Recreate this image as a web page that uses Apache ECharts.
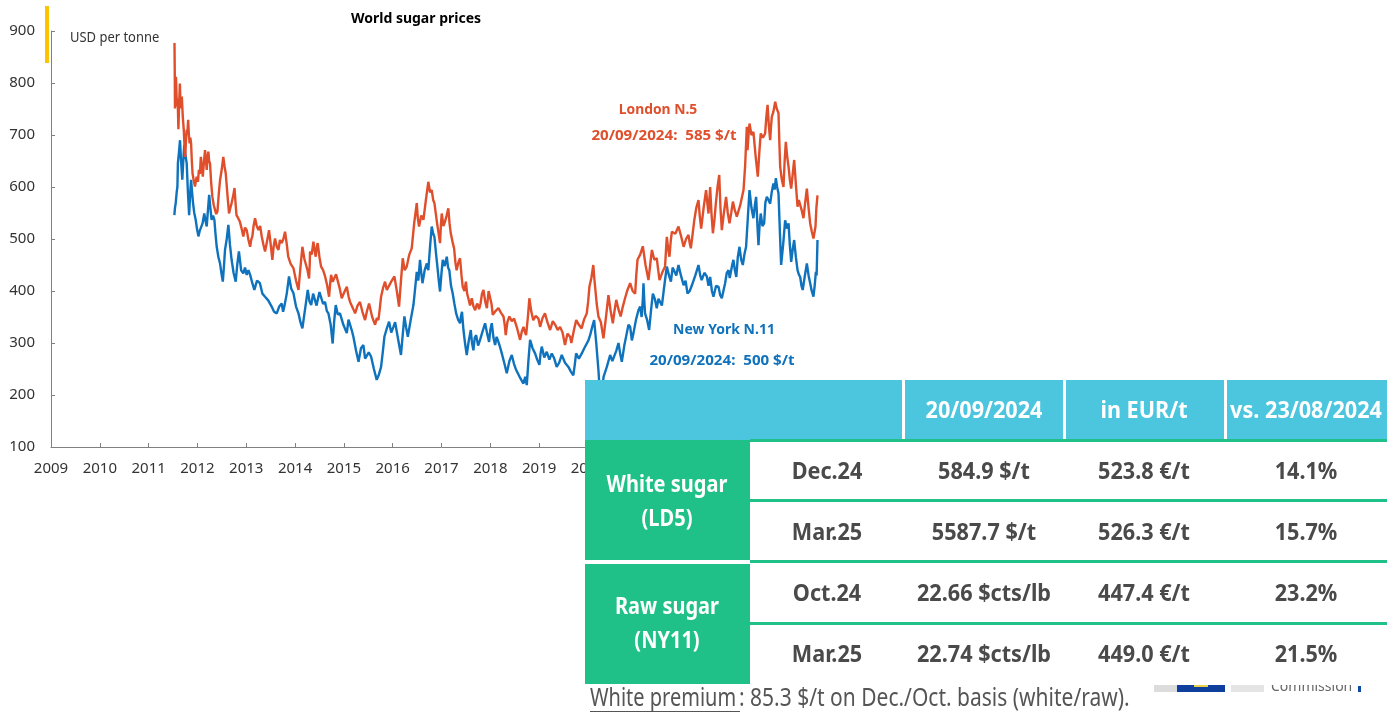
<!DOCTYPE html>
<html>
<head>
<meta charset="utf-8">
<style>html,body{margin:0;padding:0;background:#fff}#c{width:1396px;height:715px;filter:blur(0.45px)}</style>
<script src="https://cdn.jsdelivr.net/npm/echarts@6/dist/echarts.min.js"></script>
</head>
<body>
<div id="c"></div>
<script>
const yAxisTicks = [100, 900, 100];
const xAxisTicks = [2009, 2025, 1];
const londonPoints = [[2011.53,877],[2011.535,825],[2011.54,751],[2011.55,790],[2011.56,812],[2011.57,780],[2011.58,755],[2011.595,770],[2011.61,711],[2011.625,760],[2011.64,799],[2011.65,770],[2011.66,751],[2011.67,765],[2011.68,774],[2011.70,735],[2011.72,710],[2011.735,680],[2011.75,658],[2011.765,690],[2011.78,710],[2011.795,705],[2011.81,729],[2011.825,700],[2011.84,684],[2011.855,695],[2011.87,684],[2011.885,650],[2011.90,626],[2011.925,612],[2011.95,601],[2011.97,612],[2011.985,620],[2012.01,610],[2012.03,633],[2012.05,625],[2012.07,658],[2012.09,640],[2012.11,620],[2012.135,650],[2012.156,671],[2012.175,650],[2012.19,633],[2012.205,655],[2012.224,668],[2012.24,650],[2012.258,645],[2012.28,610],[2012.306,581],[2012.335,565],[2012.36,556],[2012.385,548],[2012.41,553],[2012.44,590],[2012.463,613],[2012.50,635],[2012.53,658],[2012.555,640],[2012.58,626],[2012.615,585],[2012.647,549],[2012.675,560],[2012.70,569],[2012.73,582],[2012.76,598],[2012.78,570],[2012.80,546],[2012.835,540],[2012.87,533],[2012.905,520],[2012.94,505],[2012.975,522],[2013.01,517],[2013.045,498],[2013.08,485],[2013.10,498],[2013.125,505],[2013.15,525],[2013.18,540],[2013.215,525],[2013.25,517],[2013.285,525],[2013.317,505],[2013.35,490],[2013.385,476],[2013.425,495],[2013.467,517],[2013.50,490],[2013.535,460],[2013.56,485],[2013.59,501],[2013.625,485],[2013.66,479],[2013.69,498],[2013.726,492],[2013.76,500],[2013.795,514],[2013.83,490],[2013.86,466],[2013.91,452],[2013.966,444],[2014.02,420],[2014.07,402],[2014.11,445],[2014.15,485],[2014.19,462],[2014.225,450],[2014.255,440],[2014.287,424],[2014.30,450],[2014.307,476],[2014.34,470],[2014.376,495],[2014.40,478],[2014.423,466],[2014.445,485],[2014.464,492],[2014.50,465],[2014.533,447],[2014.575,440],[2014.615,428],[2014.655,412],[2014.697,389],[2014.72,415],[2014.738,431],[2014.77,418],[2014.806,421],[2014.84,432],[2014.874,431],[2014.915,405],[2014.956,386],[2015.01,398],[2015.06,408],[2015.095,390],[2015.127,379],[2015.18,368],[2015.23,357],[2015.28,372],[2015.33,379],[2015.38,360],[2015.434,344],[2015.475,362],[2015.516,376],[2015.58,350],[2015.64,335],[2015.675,348],[2015.707,344],[2015.735,365],[2015.762,389],[2015.80,405],[2015.844,418],[2015.88,402],[2015.912,399],[2015.97,418],[2016.035,428],[2016.085,400],[2016.13,370],[2016.17,420],[2016.206,463],[2016.245,440],[2016.288,447],[2016.34,470],[2016.39,482],[2016.44,530],[2016.493,569],[2016.515,540],[2016.54,524],[2016.585,545],[2016.63,537],[2016.68,575],[2016.73,610],[2016.765,590],[2016.80,594],[2016.83,575],[2016.855,569],[2016.91,530],[2016.97,492],[2016.99,530],[2017.005,549],[2017.04,525],[2017.07,533],[2017.105,545],[2017.14,559],[2017.165,530],[2017.19,511],[2017.225,495],[2017.258,482],[2017.285,455],[2017.31,440],[2017.345,455],[2017.38,463],[2017.41,430],[2017.435,408],[2017.47,400],[2017.50,418],[2017.525,395],[2017.55,386],[2017.585,372],[2017.62,386],[2017.655,370],[2017.69,363],[2017.715,372],[2017.736,376],[2017.77,365],[2017.80,376],[2017.83,395],[2017.86,402],[2017.895,380],[2017.93,367],[2017.965,400],[2017.995,399],[2018.025,375],[2018.05,354],[2018.11,362],[2018.166,367],[2018.22,358],[2018.27,351],[2018.295,335],[2018.316,315],[2018.35,340],[2018.39,351],[2018.44,342],[2018.487,347],[2018.55,328],[2018.61,306],[2018.645,322],[2018.68,331],[2018.705,322],[2018.733,315],[2018.77,350],[2018.80,386],[2018.84,360],[2018.88,344],[2018.93,352],[2018.986,347],[2019.02,331],[2019.07,348],[2019.12,357],[2019.17,340],[2019.225,325],[2019.28,342],[2019.33,335],[2019.38,325],[2019.43,331],[2019.48,320],[2019.53,296],[2019.58,318],[2019.635,312],[2019.66,300],[2019.68,302],[2019.72,328],[2019.76,344],[2019.815,335],[2019.87,328],[2019.92,345],[2019.976,357],[2020.005,380],[2020.03,408],[2020.07,425],[2020.11,450],[2020.13,425],[2020.147,408],[2020.18,375],[2020.215,351],[2020.265,340],[2020.318,309],[2020.37,350],[2020.42,392],[2020.465,362],[2020.51,338],[2020.545,362],[2020.58,383],[2020.625,365],[2020.67,351],[2020.715,370],[2020.76,386],[2020.81,402],[2020.865,415],[2020.915,400],[2020.967,395],[2020.99,430],[2021.015,460],[2021.07,470],[2021.124,486],[2021.18,450],[2021.24,421],[2021.275,450],[2021.31,479],[2021.36,460],[2021.41,463],[2021.44,440],[2021.466,421],[2021.52,435],[2021.58,447],[2021.60,480],[2021.616,504],[2021.645,480],[2021.67,466],[2021.695,495],[2021.72,514],[2021.79,510],[2021.855,524],[2021.91,505],[2021.96,485],[2022.01,500],[2022.06,508],[2022.085,492],[2022.108,482],[2022.145,510],[2022.18,537],[2022.22,560],[2022.265,575],[2022.29,545],[2022.32,520],[2022.37,560],[2022.42,594],[2022.445,570],[2022.47,549],[2022.504,600],[2022.53,550],[2022.56,511],[2022.59,535],[2022.62,568],[2022.655,600],[2022.69,623],[2022.715,560],[2022.743,517],[2022.785,550],[2022.83,581],[2022.865,550],[2022.90,530],[2022.935,550],[2022.97,572],[2023.01,555],[2023.05,543],[2023.12,565],[2023.187,594],[2023.22,640],[2023.255,716],[2023.265,690],[2023.27,671],[2023.29,700],[2023.31,722],[2023.35,700],[2023.39,706],[2023.435,660],[2023.48,620],[2023.51,665],[2023.54,703],[2023.585,695],[2023.63,703],[2023.655,735],[2023.68,758],[2023.705,720],[2023.733,690],[2023.75,715],[2023.767,735],[2023.80,745],[2023.836,764],[2023.87,750],[2023.904,742],[2023.92,690],[2023.938,639],[2023.97,615],[2024.006,600],[2024.03,650],[2024.054,687],[2024.08,660],[2024.11,639],[2024.135,615],[2024.164,597],[2024.195,625],[2024.225,652],[2024.26,605],[2024.294,562],[2024.32,575],[2024.348,575],[2024.38,555],[2024.416,540],[2024.45,570],[2024.485,597],[2024.52,560],[2024.553,530],[2024.585,515],[2024.62,501],[2024.64,512],[2024.662,524],[2024.68,560],[2024.703,584]];
const newYorkPoints = [[2011.527,546],[2011.54,560],[2011.555,569],[2011.575,590],[2011.59,601],[2011.60,646],[2011.62,665],[2011.643,690],[2011.665,650],[2011.69,614],[2011.71,650],[2011.73,681],[2011.755,660],[2011.78,646],[2011.805,590],[2011.83,546],[2011.85,585],[2011.87,614],[2011.89,590],[2011.91,569],[2011.935,550],[2011.964,537],[2011.99,520],[2012.02,505],[2012.045,515],[2012.07,517],[2012.105,530],[2012.14,549],[2012.165,535],[2012.19,524],[2012.215,555],[2012.24,585],[2012.265,560],[2012.29,537],[2012.32,545],[2012.347,537],[2012.37,510],[2012.395,485],[2012.43,465],[2012.463,453],[2012.49,435],[2012.52,418],[2012.545,450],[2012.565,479],[2012.60,500],[2012.634,527],[2012.665,490],[2012.70,460],[2012.74,435],[2012.784,418],[2012.815,450],[2012.85,476],[2012.895,440],[2012.94,434],[2012.975,445],[2013.01,431],[2013.045,440],[2013.08,431],[2013.125,415],[2013.166,402],[2013.22,420],[2013.28,415],[2013.33,395],[2013.385,389],[2013.45,382],[2013.52,370],[2013.57,360],[2013.624,357],[2013.675,370],[2013.726,376],[2013.755,360],[2013.78,370],[2013.83,395],[2013.876,428],[2013.92,405],[2013.966,396],[2014.02,370],[2014.07,357],[2014.11,340],[2014.15,328],[2014.205,365],[2014.26,402],[2014.295,380],[2014.33,373],[2014.37,395],[2014.41,392],[2014.44,372],[2014.464,370],[2014.5,398],[2014.533,395],[2014.575,375],[2014.615,379],[2014.65,362],[2014.683,357],[2014.73,335],[2014.77,299],[2014.80,340],[2014.833,373],[2014.875,355],[2014.92,357],[2014.99,335],[2015.06,319],[2015.095,345],[2015.127,347],[2015.16,325],[2015.195,312],[2015.25,285],[2015.30,264],[2015.35,290],[2015.40,296],[2015.435,270],[2015.468,267],[2015.51,282],[2015.557,274],[2015.615,250],[2015.673,229],[2015.72,240],[2015.762,254],[2015.80,285],[2015.83,312],[2015.88,328],[2015.926,341],[2015.97,320],[2016.015,331],[2016.05,340],[2016.083,322],[2016.125,300],[2016.17,277],[2016.205,315],[2016.24,351],[2016.275,330],[2016.31,312],[2016.37,345],[2016.425,373],[2016.46,405],[2016.493,437],[2016.525,420],[2016.56,460],[2016.585,435],[2016.61,415],[2016.655,440],[2016.70,453],[2016.73,440],[2016.765,485],[2016.80,524],[2016.83,510],[2016.855,504],[2016.89,470],[2016.923,440],[2016.95,415],[2016.97,399],[2017.0,435],[2017.026,460],[2017.065,448],[2017.108,466],[2017.135,445],[2017.16,440],[2017.195,410],[2017.23,395],[2017.265,375],[2017.30,357],[2017.34,345],[2017.38,338],[2017.40,352],[2017.42,360],[2017.45,325],[2017.483,299],[2017.517,277],[2017.56,305],[2017.60,325],[2017.625,300],[2017.654,286],[2017.68,310],[2017.71,315],[2017.75,295],[2017.79,306],[2017.84,322],[2017.893,338],[2017.935,318],[2017.975,302],[2018.0,325],[2018.03,338],[2018.065,310],[2018.098,296],[2018.13,312],[2018.166,302],[2018.2,292],[2018.235,280],[2018.285,262],[2018.337,242],[2018.39,265],[2018.44,277],[2018.485,260],[2018.53,248],[2018.6,235],[2018.678,222],[2018.715,235],[2018.747,219],[2018.78,265],[2018.815,306],[2018.865,290],[2018.917,280],[2018.96,268],[2019.006,258],[2019.03,280],[2019.054,293],[2019.105,272],[2019.156,283],[2019.21,268],[2019.26,280],[2019.31,270],[2019.36,254],[2019.41,262],[2019.464,277],[2019.53,262],[2019.60,254],[2019.65,245],[2019.70,238],[2019.73,258],[2019.758,280],[2019.815,270],[2019.874,280],[2019.925,290],[2019.976,299],[2020.01,305],[2020.045,315],[2020.085,330],[2020.127,344],[2020.17,300],[2020.215,248],[2020.25,195],[2020.285,205],[2020.32,235],[2020.39,255],[2020.455,277],[2020.5,265],[2020.537,264],[2020.58,285],[2020.626,300],[2020.66,280],[2020.694,264],[2020.745,295],[2020.796,319],[2020.83,335],[2020.865,331],[2020.90,305],[2020.933,319],[2020.985,345],[2021.035,363],[2021.07,370],[2021.10,350],[2021.125,385],[2021.138,415],[2021.155,380],[2021.17,357],[2021.21,345],[2021.254,325],[2021.295,365],[2021.33,395],[2021.37,385],[2021.41,367],[2021.445,385],[2021.48,383],[2021.515,372],[2021.55,399],[2021.585,425],[2021.616,447],[2021.66,430],[2021.70,418],[2021.735,445],[2021.766,443],[2021.81,430],[2021.855,450],[2021.905,430],[2021.96,411],[2022.0,420],[2022.04,395],[2022.085,400],[2022.13,411],[2022.2,430],[2022.265,450],[2022.3,430],[2022.33,421],[2022.385,435],[2022.436,428],[2022.47,410],[2022.504,427],[2022.54,400],[2022.572,389],[2022.625,410],[2022.675,408],[2022.71,392],[2022.743,386],[2022.775,400],[2022.81,415],[2022.845,435],[2022.88,440],[2022.905,425],[2022.927,427],[2022.955,450],[2022.98,460],[2023.01,440],[2023.04,427],[2023.07,465],[2023.105,485],[2023.14,460],[2023.173,450],[2023.205,470],[2023.24,485],[2023.275,540],[2023.31,594],[2023.35,560],[2023.39,540],[2023.42,565],[2023.446,581],[2023.47,530],[2023.494,488],[2023.515,525],[2023.54,549],[2023.575,525],[2023.61,530],[2023.635,570],[2023.665,581],[2023.7,575],[2023.733,568],[2023.765,590],[2023.80,607],[2023.825,595],[2023.85,617],[2023.875,600],[2023.904,588],[2023.93,520],[2023.958,450],[2024.0,490],[2024.04,536],[2024.075,520],[2024.11,530],[2024.135,490],[2024.164,456],[2024.195,480],[2024.225,498],[2024.26,465],[2024.294,440],[2024.32,432],[2024.348,427],[2024.375,410],[2024.40,402],[2024.445,430],[2024.485,453],[2024.52,430],[2024.553,415],[2024.585,400],[2024.62,389],[2024.645,410],[2024.67,437],[2024.685,430],[2024.703,498]];
const chartTitle = 'World sugar prices';
const unitLabel = 'USD per tonne';
const londonLabels = ['London N.5', '20/09/2024:  585 $/t'];
const newYorkLabels = ['New York N.11', '20/09/2024:  500 $/t'];
const tableHeader = ['20/09/2024', 'in EUR/t', 'vs. 23/08/2024'];
const tableContracts = ['Dec.24', 'Mar.25', 'Oct.24', 'Mar.25'];
const tablePrices = ['584.9 $/t', '5587.7 $/t', '22.66 $cts/lb', '22.74 $cts/lb'];
const tableEur = ['523.8 €/t', '526.3 €/t', '447.4 €/t', '449.0 €/t'];
const tableChange = ['14.1%', '15.7%', '23.2%', '21.5%'];
const tableGroups = [['White sugar', '(LD5)'], ['Raw sugar', '(NY11)']];
const premiumLead = 'White premium';
const premiumRest = ': 85.3 $/t on Dec./Oct. basis (white/raw).';

const FONT = '"Noto Sans", sans-serif';
const RED = '#e04f2c', BLUE = '#0f72bd', TEAL = '#4cc5de', GREEN = '#20c188', GREY = '#4a4a4a';
const g = [];
const rect = (x, y, w, h, fill, z = 100) => g.push({type: 'rect', z, silent: true, shape: {x, y, width: w, height: h}, style: {fill}});
const text = (x, y, t, o = {}) => g.push({
  type: 'text', z: o.z || 101, silent: true, x, y, scaleX: o.sx || 1,
  style: {text: t, x: 0, y: 0, fill: o.fill || GREY, font: `${o.weight || 'bold'} ${o.size || 23}px ${FONT}`, textAlign: o.align || 'center', textVerticalAlign: 'middle'}
});

// chart annotations
rect(45, 6, 4, 57, '#fdc300');
text(416, 19, chartTitle, {fill: '#000', size: 14, sx: 1});
text(70, 38, unitLabel, {fill: '#333', size: 13.5, weight: 'normal', align: 'left', sx: .96});
text(658, 110, londonLabels[0], {fill: RED, size: 14, sx: .99});
text(664, 136, londonLabels[1], {fill: RED, size: 14, sx: 1.08});
text(724, 330, newYorkLabels[0], {fill: BLUE, size: 14, sx: 1});
text(722, 361, newYorkLabels[1], {fill: BLUE, size: 14, sx: 1.08});

// clipped logo fragment
text(1271, 687, 'Commission', {fill: '#666', size: 14, weight: 'normal', align: 'left', z: 90});
rect(1265, 672, 100, 13, '#fff', 95);
rect(1154, 685, 23, 7, '#dcdcdc');
rect(1177, 685, 48, 7, '#0f3f9c');
rect(1194, 685, 14, 2, '#e8d24a');
rect(1231, 685, 33, 7, '#e4e4e4');
rect(1358, 686, 3, 6, '#0f4aa5');

// table
rect(585, 440, 802, 245, '#fff');
rect(585, 380, 802, 60, TEAL);
rect(902, 380, 3, 61, '#fff');
rect(1063, 380, 3, 61, '#fff');
rect(1224, 380, 3, 61, '#fff');
rect(750, 439, 637, 3, GREEN);
rect(750, 499, 637, 3, GREEN);
rect(750, 560, 637, 3, GREEN);
rect(750, 622, 637, 3, GREEN);
rect(585, 440, 165, 120, GREEN);
rect(585, 564, 165, 120, GREEN);
[984, 1144, 1306].forEach((cx, i) => text(cx, 411, tableHeader[i], {fill: '#fff', sx: .94}));
[472, 533, 594, 655].forEach((cy, i) => {
  text(827, cy, tableContracts[i], {sx: .94});
  text(984, cy, tablePrices[i], {sx: .94});
  text(1144, cy, tableEur[i], {sx: .94});
  text(1306, cy, tableChange[i], {sx: .94});
});
text(667, 485, tableGroups[0][0], {fill: '#fff', sx: .87});
text(667, 519, tableGroups[0][1], {fill: '#fff', sx: .87});
text(667, 607, tableGroups[1][0], {fill: '#fff', sx: .87});
text(667, 641, tableGroups[1][1], {fill: '#fff', sx: .87});

// footnote
text(590, 699, premiumLead, {size: 25, weight: 'normal', align: 'left', fill: '#555', sx: .8});
text(739, 699, premiumRest, {size: 25, weight: 'normal', align: 'left', fill: '#555', sx: .84});
rect(590, 711, 150, 1, '#555');

const chart = echarts.init(document.getElementById('c'), null, {renderer: 'canvas'});
const axisBase = {
  type: 'value', splitLine: {show: false},
  axisLine: {show: true, onZero: false, lineStyle: {color: '#808080', width: 1}},
  axisTick: {show: true, inside: true, length: 4, lineStyle: {color: '#808080'}},
  axisLabel: {color: '#333', fontFamily: FONT, fontSize: 15}
};
chart.setOption({
  animation: false,
  backgroundColor: '#fff',
  grid: {left: 51, top: 31, right: 1396 - 832, bottom: 715 - 447},
  xAxis: {...axisBase, min: xAxisTicks[0], max: xAxisTicks[1], interval: xAxisTicks[2],
    axisLabel: {...axisBase.axisLabel, margin: 14, formatter: v => String(v), hideOverlap: false}},
  yAxis: {...axisBase, min: yAxisTicks[0], max: yAxisTicks[1], interval: yAxisTicks[2],
    axisLabel: {...axisBase.axisLabel, margin: 16}},
  series: [
    {type: 'line', name: 'New York N.11', data: newYorkPoints, showSymbol: false, lineStyle: {color: BLUE, width: 2.4}, itemStyle: {color: BLUE}},
    {type: 'line', name: 'London N.5', data: londonPoints, showSymbol: false, lineStyle: {color: RED, width: 2.4}, itemStyle: {color: RED}}
  ],
  graphic: {elements: g}
});
</script>
</body>
</html>
